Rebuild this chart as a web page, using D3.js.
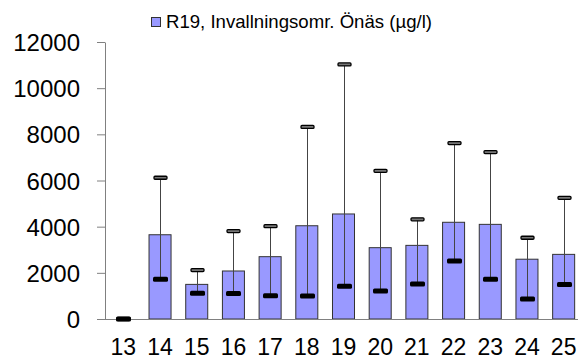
<!DOCTYPE html>
<html>
<head>
<meta charset="utf-8">
<script src="https://cdn.jsdelivr.net/npm/d3@7"></script>
<style>
  body { margin: 0; background: #fff; }
  text { font-family: "Liberation Sans", Arial, sans-serif; }
</style>
</head>
<body>
<div id="chart"></div>
<script>
const categories = ["13", "14", "15", "16", "17", "18", "19", "20", "21", "22", "23", "24", "25"];
const meanValues = [0, 3650, 1500, 2080, 2700, 4040, 4550, 3090, 3190, 4190, 4100, 2590, 2800];
const minValues  = [0, 1720, 1120, 1110, 1010, 1000, 1420, 1210, 1520, 2510, 1720, 870, 1500];
const maxValues  = [0, 6120, 2120, 3810, 4020, 8320, 11030, 6420, 4320, 7620, 7230, 3520, 5250];
const yTicks = [0, 2000, 4000, 6000, 8000, 10000, 12000];
const legendLabel = "R19, Invallningsomr. Önäs (µg/l)";

const W = 578, H = 360;
const margin = { top: 42, right: -4, bottom: 41, left: 105 },
      width = W - margin.left - margin.right,
      height = H - margin.top - margin.bottom;

const svg = d3.select("#chart")
    .append("svg")
    .attr("width", W)
    .attr("height", H);

const g = svg.append("g")
    .attr("transform", `translate(${margin.left},${margin.top})`);

const data = categories.map((c, i) => ({
    cat: c,
    mean: meanValues[i],
    min: minValues[i],
    max: maxValues[i]
}));

const x = d3.scaleBand()
    .domain(categories)
    .range([0, width])
    .paddingInner(0.4)
    .paddingOuter(0.2);

const y = d3.scaleLinear()
    .domain([0, 12000])
    .range([height, 0]);

// y axis
const yAxis = g.append("g")
    .call(d3.axisLeft(y).tickValues(yTicks).tickFormat(d3.format("d"))
        .tickSize(8).tickPadding(17).tickSizeOuter(0));
yAxis.select(".domain").attr("stroke", "#808080");
yAxis.selectAll(".tick line").attr("stroke", "#808080");
yAxis.selectAll("text")
    .style("font-size", "24px")
    .attr("fill", "#000")
    .attr("dy", "0.36em");

// bars
g.selectAll(".bar")
    .data(data)
    .join("rect")
    .attr("class", "bar")
    .attr("x", d => x(d.cat))
    .attr("y", d => y(d.mean))
    .attr("width", x.bandwidth())
    .attr("height", d => height - y(d.mean))
    .attr("fill", "#9999ff")
    .attr("stroke", "#333")
    .attr("stroke-width", 1);

// x axis line
g.append("line")
    .attr("x1", -8)
    .attr("x2", width)
    .attr("y1", height + 0.5)
    .attr("y2", height + 0.5)
    .attr("stroke", "#808080");

// x labels
g.append("g")
    .selectAll("text")
    .data(categories)
    .join("text")
    .attr("x", d => x(d) + x.bandwidth() / 2)
    .attr("y", height + 36)
    .attr("text-anchor", "middle")
    .style("font-size", "23px")
    .text(d => d);

// high-low stems
const cx = d => Math.round(x(d.cat) + x.bandwidth() / 2) + 0.5;
g.selectAll(".stem")
    .data(data)
    .join("line")
    .attr("class", "stem")
    .attr("x1", cx)
    .attr("x2", cx)
    .attr("y1", d => y(d.max))
    .attr("y2", d => y(d.min))
    .attr("stroke", "#444")
    .attr("stroke-width", 1);

// max markers (outlined dash)
g.selectAll(".maxmark")
    .data(data)
    .join("rect")
    .attr("class", "maxmark")
    .attr("x", d => cx(d) - 6.5)
    .attr("y", d => y(d.max) - 1.5)
    .attr("width", 13)
    .attr("height", 3)
    .attr("rx", 1)
    .attr("fill", "#777")
    .attr("stroke", "#000")
    .attr("stroke-width", 1.3);

// min markers (solid dash)
g.selectAll(".minmark")
    .data(data)
    .join("rect")
    .attr("class", "minmark")
    .attr("x", d => cx(d) - 7.5)
    .attr("y", d => y(d.min) - 2.5)
    .attr("width", 15)
    .attr("height", 5)
    .attr("rx", 1.5)
    .attr("fill", "#000");

// legend
const legend = svg.append("g").attr("transform", "translate(151,17)");
legend.append("rect")
    .attr("x", 0.5)
    .attr("y", 0.5)
    .attr("width", 9)
    .attr("height", 9)
    .attr("fill", "#9999ff")
    .attr("stroke", "#333");
legend.append("text")
    .attr("x", 15)
    .attr("y", 11)
    .style("font-size", "18.6px")
    .text(legendLabel);
</script>
</body>
</html>
